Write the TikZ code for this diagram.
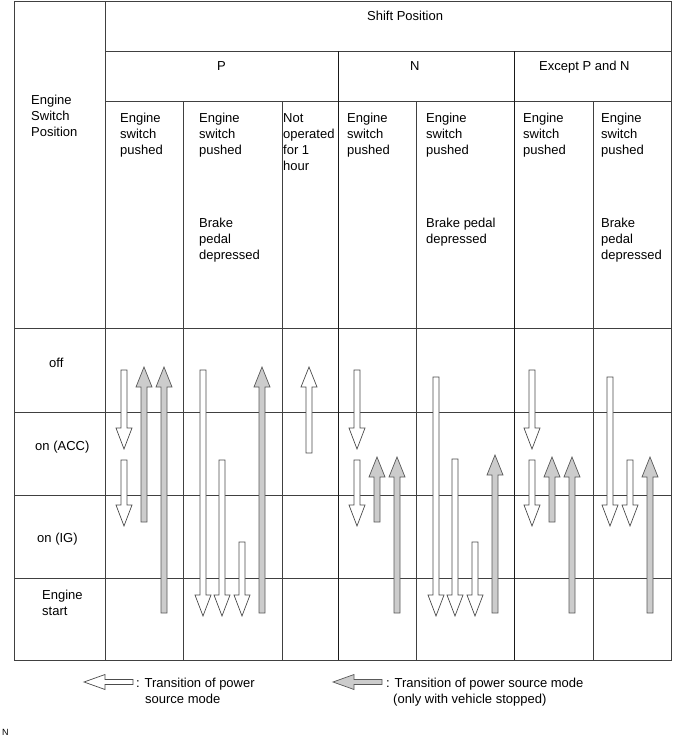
\documentclass[tikz,border=0pt]{standalone}
\usepackage{fontspec}
\setmainfont{Liberation Sans}
\newcommand{\arrdn}[4]{% style, x, tail y, tip y (pointing down)
  \draw[#1] ({#2-3},#3) -- ({#2+3},#3) -- ({#2+3},{#4-21}) -- ({#2+8},{#4-21}) -- (#2,#4) -- ({#2-8},{#4-21}) -- ({#2-3},{#4-21}) -- cycle;}
\newcommand{\arrup}[4]{% style, x, tail y, tip y (pointing up)
  \draw[#1] ({#2-3},#3) -- ({#2+3},#3) -- ({#2+3},{#4+20}) -- ({#2+8},{#4+20}) -- (#2,#4) -- ({#2-8},{#4+20}) -- ({#2-3},{#4+20}) -- cycle;}
\newcommand{\arrlf}[4]{% style, y, tail x, tip x (pointing left)
  \draw[#1] (#3,{#2-2.5}) -- (#3,{#2+2.5}) -- ({#4+21},{#2+2.5}) -- ({#4+21},{#2+7.5}) -- (#4,#2) -- ({#4+21},{#2-7.5}) -- ({#4+21},{#2-2.5}) -- cycle;}
\newcommand{\txt}[4]{% x, first baseline, name, lines
  \foreach \t [count=\i] in {#4} {\node[lbl, anchor=base west] (#3\i) at (#1,{#2+16*(\i-1)}) {\t};}}
\begin{document}
\begin{tikzpicture}[x=1pt,y=-1pt,
  grid/.style={draw=black!75, line width=0.8pt},
  lbl/.style={inner sep=0pt, font=\fontsize{13}{16}\selectfont, text=black},
  warr/.style={draw=black!70, fill=white, line width=0.7pt},
  garr/.style={draw=black!65, fill=black!20, line width=0.7pt}]
\useasboundingbox (0,0) rectangle (673,736);
% grid
\draw[grid] (14,1) rectangle (671,660);
\draw[grid] (105,1) -- (105,660);
\draw[grid] (105,51) -- (671,51);
\draw[grid] (105,101) -- (671,101);
\foreach \y in {328,412,495,578} \draw[grid] (14,\y) -- (671,\y);
\foreach \x in {338,514} \draw[grid, draw=black!90] (\x,51) -- (\x,660);
\foreach \x in {183,282,416,593} \draw[grid] (\x,101) -- (\x,660);
% headers
\txt{367}{20}{hdr}{Shift Position}
\txt{217}{70}{hp}{P}
\txt{410}{70}{hn}{N}
\txt{539}{70}{hx}{Except P and N}
\txt{31}{104}{esp}{Engine,Switch,Position}
\txt{120}{122}{pa}{Engine,switch,pushed}
\txt{199}{122}{pb}{Engine,switch,pushed}
\txt{199}{227}{pbb}{Brake,pedal,depressed}
\txt{283}{122}{pc}{Not,operated,for 1,hour}
\txt{347}{122}{na}{Engine,switch,pushed}
\txt{426}{122}{nb}{Engine,switch,pushed}
\txt{426}{227}{nbb}{Brake pedal,depressed}
\txt{523}{122}{ea}{Engine,switch,pushed}
\txt{601}{122}{eb}{Engine,switch,pushed}
\txt{601}{227}{ebb}{Brake,pedal,depressed}
% row labels
\txt{49}{367}{ra}{off}
\txt{35}{450}{rb}{on (ACC)}
\txt{37}{542}{rc}{on (IG)}
\txt{42}{599}{rd}{Engine,start}
% arrows P
\arrdn{warr}{124}{370}{449}
\arrdn{warr}{124}{460}{526}
\arrup{garr}{144}{522}{367}
\arrup{garr}{164}{613}{367}
\arrdn{warr}{203}{370}{616}
\arrdn{warr}{222}{460}{616}
\arrdn{warr}{242}{542}{616}
\arrup{garr}{262}{613}{367}
\arrup{warr}{309}{453}{367}
% arrows N
\arrdn{warr}{357}{370}{449}
\arrdn{warr}{357}{460}{526}
\arrup{garr}{377}{522}{457}
\arrup{garr}{397}{613}{457}
\arrdn{warr}{436}{377}{616}
\arrdn{warr}{455}{459}{616}
\arrdn{warr}{475}{542}{616}
\arrup{garr}{495}{613}{455}
% arrows Except
\arrdn{warr}{532}{370}{449}
\arrdn{warr}{532}{460}{526}
\arrup{garr}{552}{522}{457}
\arrup{garr}{572}{613}{457}
\arrdn{warr}{610}{377}{526}
\arrdn{warr}{630}{460}{526}
\arrup{garr}{650}{613}{457}
% legend
\arrlf{warr}{682}{133}{84}
\txt{136}{687}{la}{: Transition of power}
\txt{145}{703}{lb}{source mode}
\arrlf{garr}{682}{382}{333}
\txt{386}{687}{lc}{: Transition of power source mode}
\txt{393}{703}{ld}{{(only with vehicle stopped)}}
\node[inner sep=0pt, anchor=base west, font=\fontsize{9}{10}\selectfont] (nn) at (2,735) {N};
\end{tikzpicture}
\end{document}
